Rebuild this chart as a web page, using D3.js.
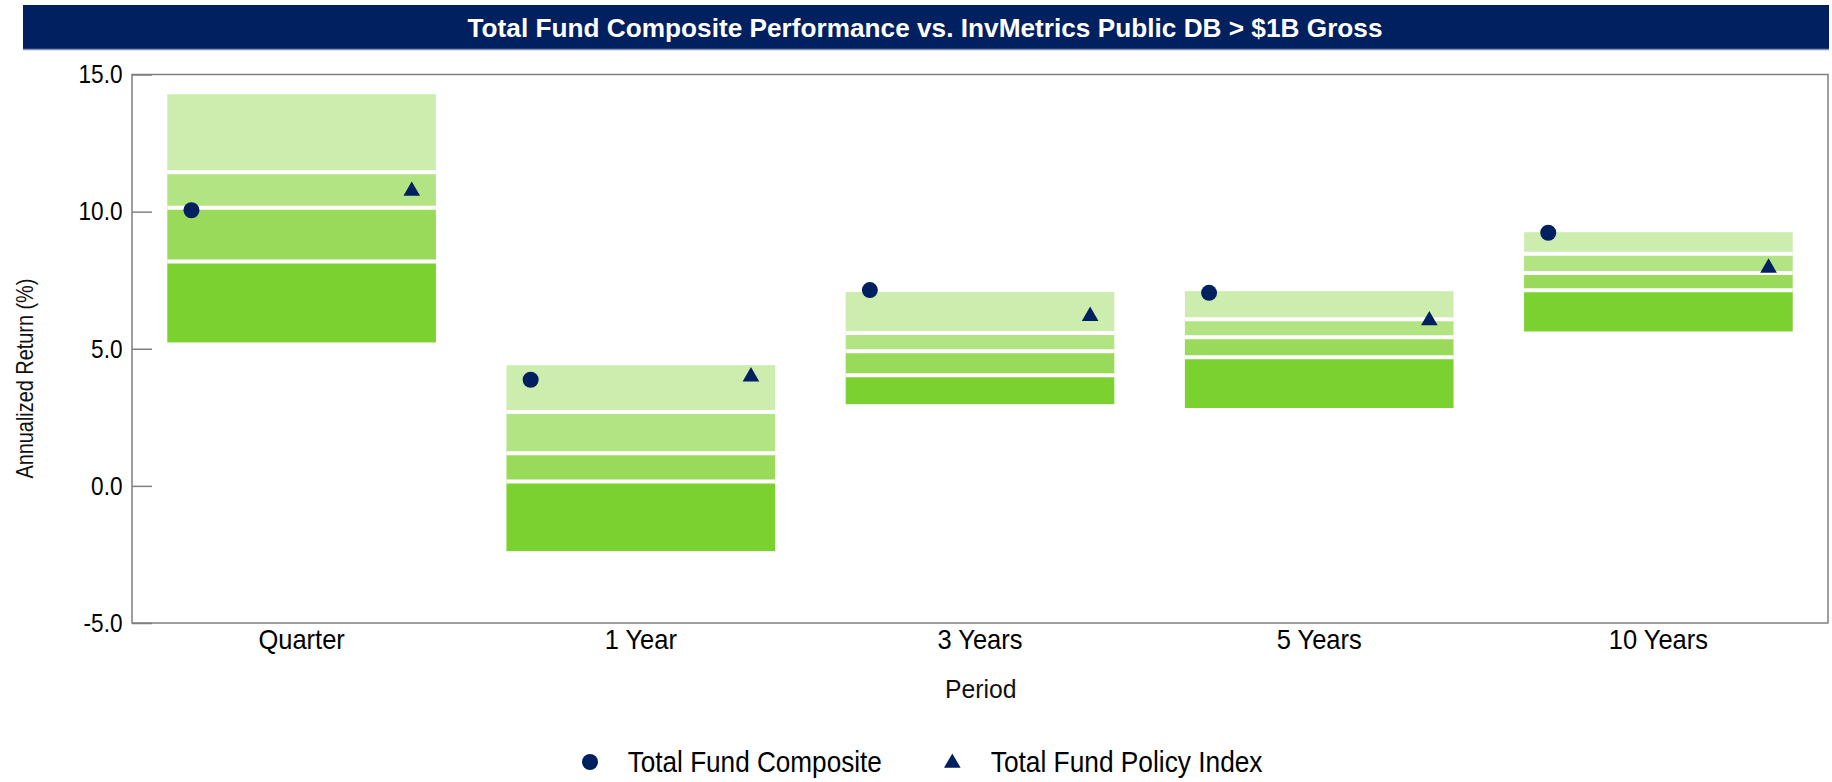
<!DOCTYPE html>
<html>
<head>
<meta charset="utf-8">
<script src="https://cdn.jsdelivr.net/npm/d3@7"></script>
<style>
  html, body { margin: 0; padding: 0; background: #ffffff; }
  svg { display: block; font-family: "Liberation Sans", Arial, sans-serif; }
</style>
</head>
<body>
<svg id="chart" width="1832" height="782"></svg>
<script>
// ---- data ----
const categories = ["Quarter", "1 Year", "3 Years", "5 Years", "10 Years"];
const p05 = [14.28, 4.40, 7.07, 7.10, 9.25];
const p25 = [11.44, 2.69, 5.57, 6.08, 8.46];
const p50 = [10.14, 1.19, 4.91, 5.42, 7.76];
const p75 = [8.18, 0.16, 4.03, 4.69, 7.13];
const p95 = [5.23, -2.38, 2.98, 2.84, 5.63];
const composite = [10.05, 3.87, 7.14, 7.04, 9.23];
const policy = [10.75, 3.98, 6.19, 6.03, 7.95];
const yTicks = [-5, 0, 5, 10, 15];
const titleText = "Total Fund Composite Performance vs. InvMetrics Public DB > $1B Gross";
const seriesNames = ["Total Fund Composite", "Total Fund Policy Index"];

// ---- setup ----
const svg = d3.select("#chart");
const navy = "#002060";
const segColors = ["#CCEDAE", "#B2E484", "#9ADA5A", "#7BD12F"];
const plot = { left: 132, right: 1828, top: 74.5, bottom: 623 };

function compress(sel, factor) {
  sel.each(function () {
    const len = this.getComputedTextLength();
    d3.select(this).attr("textLength", len * factor).attr("lengthAdjust", "spacingAndGlyphs");
  });
}

// title bar
svg.append("rect").attr("x", 23).attr("y", 5).attr("width", 1806).attr("height", 45).attr("fill", navy);
svg.append("line").attr("x1", 23).attr("x2", 1829).attr("y1", 49.5).attr("y2", 49.5)
  .attr("stroke", "#8794b8").attr("stroke-width", 1.5);
svg.append("text").attr("x", 925).attr("y", 37).attr("text-anchor", "middle")
  .attr("fill", "#fff").attr("font-weight", "bold").attr("font-size", 26)
  .attr("textLength", 915).attr("lengthAdjust", "spacingAndGlyphs")
  .text(titleText);

// scales
const x = d3.scaleBand().domain(categories).range([plot.left, plot.right])
  .paddingInner(0.208).paddingOuter(0.104);
const y = d3.scaleLinear().domain([-5, 15]).range([plot.bottom, plot.top]);

// boxes
const rows = categories.map((c, i) => ({
  c, bounds: [p05[i], p25[i], p50[i], p75[i], p95[i]]
}));
const g = svg.append("g");
rows.forEach(r => {
  for (let k = 0; k < 4; k++) {
    g.append("rect")
      .attr("x", x(r.c))
      .attr("width", x.bandwidth())
      .attr("y", y(r.bounds[k]))
      .attr("height", y(r.bounds[k + 1]) - y(r.bounds[k]))
      .attr("fill", segColors[k]);
  }
  for (let k = 1; k < 4; k++) {
    g.append("line")
      .attr("x1", x(r.c)).attr("x2", x(r.c) + x.bandwidth())
      .attr("y1", y(r.bounds[k])).attr("y2", y(r.bounds[k]))
      .attr("stroke", "#fff").attr("stroke-width", 4);
  }
});

// frame
svg.append("rect").attr("x", plot.left).attr("y", plot.top)
  .attr("width", plot.right - plot.left).attr("height", plot.bottom - plot.top)
  .attr("fill", "none").attr("stroke", "#7f7f7f").attr("stroke-width", 1.5);

// y axis
const yAxis = svg.append("g").attr("transform", `translate(${plot.left},0)`)
  .call(d3.axisLeft(y).tickValues(yTicks).tickSize(-20).tickPadding(9.5)
    .tickFormat(d => d.toFixed(1)));
yAxis.select(".domain").remove();
yAxis.selectAll(".tick line").attr("stroke", "#808080").attr("stroke-width", 1.5);
yAxis.selectAll(".tick text").attr("font-size", 26).attr("fill", "#000")
  .attr("font-family", "'Liberation Sans', Arial, sans-serif");
compress(yAxis.selectAll(".tick text"), 0.87);

// x axis
const xAxis = svg.append("g").attr("transform", `translate(0,${plot.bottom})`)
  .call(d3.axisBottom(x).tickSize(0).tickPadding(6.5));
xAxis.select(".domain").remove();
xAxis.selectAll(".tick text").attr("font-size", 28).attr("fill", "#000")
  .attr("font-family", "'Liberation Sans', Arial, sans-serif");
compress(xAxis.selectAll(".tick text"), 0.91);

// axis titles
const yt = svg.append("text").attr("transform", "translate(33,378.6) rotate(-90)")
  .attr("text-anchor", "middle").attr("font-size", 24).attr("fill", "#111")
  .text("Annualized Return (%)");
compress(yt, 201 / (24 * 10.115));
const xt = svg.append("text").attr("x", 980.8).attr("y", 698).attr("text-anchor", "middle")
  .attr("font-size", 26).attr("fill", "#111").text("Period");
compress(xt, 0.95);

// markers
const tri = d3.symbol().type(d3.symbolTriangle).size(120);
const mk = svg.append("g");
mk.selectAll("circle.comp").data(categories).join("circle").attr("class", "comp")
  .attr("cx", (c) => x(c) + x.bandwidth() * 0.09)
  .attr("cy", (c, i) => y(composite[i]))
  .attr("r", 8).attr("fill", navy);
mk.selectAll("path.pol").data(categories).join("path").attr("class", "pol")
  .attr("d", tri)
  .attr("transform", (c, i) => `translate(${x(c) + x.bandwidth() * 0.91},${y(policy[i])})`)
  .attr("fill", navy);

// legend
const lg = svg.append("g");
lg.append("circle").attr("cx", 590).attr("cy", 762).attr("r", 8).attr("fill", navy);
const l1 = lg.append("text").attr("x", 627.7).attr("y", 771.5).attr("font-size", 29).attr("fill", "#000").text(seriesNames[0]);
compress(l1, 257 / (29 * 9.837));
lg.append("path").attr("d", tri).attr("transform", "translate(952.3,763)").attr("fill", navy);
const l2 = lg.append("text").attr("x", 990.8).attr("y", 771.5).attr("font-size", 29).attr("fill", "#000").text(seriesNames[1]);
compress(l2, 274.6 / (29 * 10.449));
</script>
</body>
</html>
